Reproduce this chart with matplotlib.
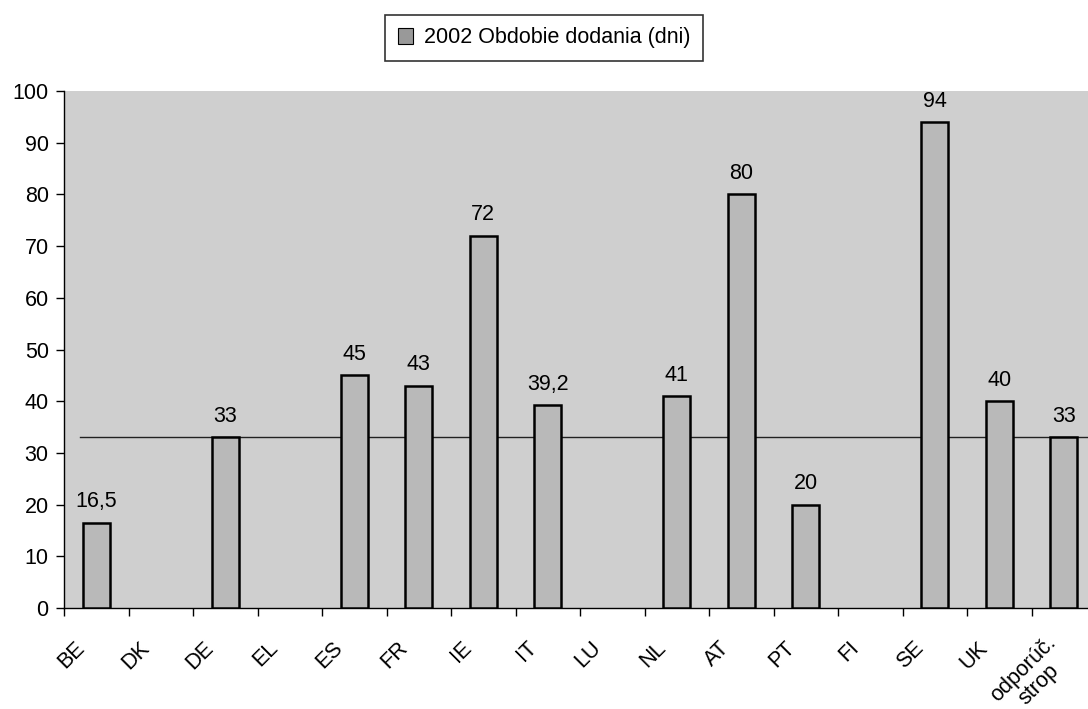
import numpy as np
import matplotlib.pyplot as plt
import matplotlib.transforms as mtransforms
from matplotlib.patches import Patch

plt.rcParams['font.family'] = ['Liberation Sans', 'DejaVu Sans']

countries = ['BE', 'DK', 'DE', 'EL', 'ES', 'FR', 'IE', 'IT', 'LU', 'NL',
             'AT', 'PT', 'FI', 'SE', 'UK', 'odporúč.\nstrop']
days = [16.5, None, 33, None, 45, 43, 72, 39.2, None, 41, 80, 20, None, 94, 40, 33]
ceiling = 33
legend_label = '2002 Obdobie dodania (dni)'


def fmt(v):
    if v == int(v):
        return str(int(v))
    return str(v).replace('.', ',')


def main():
    fig = plt.figure(figsize=(10.88, 7.09), dpi=100)
    ax = fig.add_axes([64 / 1088, 1 - 608 / 709, 1032 / 1088, (608 - 91) / 709])
    ax.set_facecolor('#cfcfcf')

    x = np.arange(len(countries))
    for i, v in enumerate(days):
        if v is None:
            continue
        ax.bar(x[i], v, width=0.42, color='#b9b9b9', edgecolor='black', linewidth=1.8, zorder=3)
        ax.text(x[i], v + 2.0, fmt(v), ha='center', va='bottom', fontsize=15.5, zorder=4)

    ax.plot([-0.25, len(countries)], [ceiling, ceiling], color='#222222', linewidth=1, zorder=2)

    ax.set_xlim(-0.5, len(countries) - 0.5)
    ax.set_ylim(0, 100)
    ax.set_yticks(range(0, 101, 10))
    ax.tick_params(axis='y', labelsize=15.5, length=6, width=1, direction='out', pad=5)

    ax.set_xticks(x)
    ax.set_xticklabels(countries, rotation=45, ha='right', va='top', fontsize=15.5)
    ax.tick_params(axis='x', which='major', length=0, pad=21)
    labels = ax.get_xticklabels()
    shift = mtransforms.ScaledTranslation(-0.07, 0, fig.dpi_scale_trans)
    for lab in labels[:-1]:
        lab.set_transform(lab.get_transform() + shift)
    labels[-1].set_multialignment('center')
    labels[-1].set_linespacing(1.05)
    labels[-1].set_transform(labels[-1].get_transform()
                             + mtransforms.ScaledTranslation(0.12, 0.05, fig.dpi_scale_trans))
    ax.set_xticks(np.arange(-0.5, len(countries), 1), minor=True)
    ax.tick_params(axis='x', which='minor', length=6, width=1, direction='out')

    for s in ['top', 'right']:
        ax.spines[s].set_visible(False)
    ax.spines['left'].set_linewidth(1)
    ax.spines['bottom'].set_linewidth(1)

    handle = Patch(facecolor='#999999', edgecolor='black', linewidth=0.8)
    leg = fig.legend([handle], [legend_label], loc='center', bbox_to_anchor=(544 / 1088, 1 - 38 / 709),
                     fontsize=15.5, frameon=True, fancybox=False, edgecolor='black',
                     handlelength=0.7, handleheight=0.7, handletextpad=0.5, borderpad=0.6)
    leg.get_frame().set_linewidth(1.2)

    fig.savefig('out.png', dpi=100)


if __name__ == "__main__":
    main()
